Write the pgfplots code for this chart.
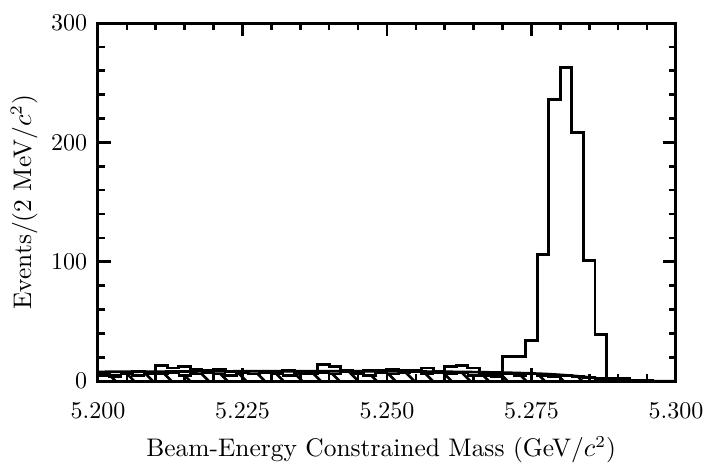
\documentclass[border=0pt]{standalone}
\usepackage{pgfplots}
\pgfplotsset{compat=1.18}
\usetikzlibrary{patterns.meta}

% Beam-energy constrained mass, 2 MeV bins (left edges)
\pgfplotstableread{
x      n
5.200  6
5.202  5
5.204  6
5.206  8
5.208  7
5.210  13
5.212  11
5.214  12
5.216  10
5.218  9
5.220  10
5.222  8
5.224  7
5.226  6
5.228  8
5.230  7
5.232  9
5.234  8
5.236  6
5.238  14
5.240  12
5.242  9
5.244  8
5.246  9
5.248  9
5.250  10
5.252  9
5.254  9
5.256  11
5.258  8
5.260  12
5.262  13
5.264  11
5.266  5
5.268  4
5.270  21
5.272  21
5.274  34
5.276  106
5.278  236
5.280  263
5.282  208
5.284  101
5.286  39
5.288  2
5.290  2
5.292  1
5.294  1
5.296  0
5.298  0
5.300  0
}\datatab

% Background estimate (hatched)
\pgfplotstableread{
x      n
5.200  5
5.202  4
5.204  6
5.206  5
5.208  6
5.210  6
5.212  7
5.214  5
5.216  6
5.218  7
5.220  6
5.222  5
5.224  7
5.226  6
5.228  7
5.230  6
5.232  5
5.234  6
5.236  7
5.238  7
5.240  6
5.242  8
5.244  6
5.246  5
5.248  7
5.250  6
5.252  7
5.254  8
5.256  6
5.258  7
5.260  6
5.262  7
5.264  5
5.266  6
5.268  6
5.270  6
5.272  5
5.274  6
5.276  5
5.278  4
5.280  5
5.282  4
5.284  3
5.286  2
5.288  1
5.290  0
}\bkgtab

% Background shape fit
\pgfplotstableread{
x      f
5.200  7.8
5.210  8.0
5.220  8.2
5.230  8.3
5.240  8.3
5.250  8.2
5.255  8.1
5.260  7.9
5.265  7.6
5.270  7.2
5.275  6.5
5.278  5.9
5.280  5.3
5.282  4.6
5.284  3.7
5.286  2.6
5.287  1.9
5.288  1.1
5.2885 0.6
5.289  0.0
5.300  0.0
}\fittab

\begin{document}
\begin{tikzpicture}
\begin{axis}[
  scale only axis,
  width=240.8pt, height=149.2pt,
  xmin=5.2, xmax=5.3, ymin=0, ymax=300,
  axis line style={line width=1.25pt},
  every tick/.style={line width=1.1pt, black},
  tick align=inside,
  xtick pos=both, ytick pos=both,
  major tick length=5.5pt, minor tick length=3pt,
  xtick={5.2,5.225,5.25,5.275,5.3},
  xticklabels={$5.200$,$5.225$,$5.250$,$5.275$,$5.300$},
  minor x tick num=4,
  ytick={0,100,200,300},
  minor y tick num=4,
  scaled x ticks=false,
  label style={font=\fontsize{10.6}{12.5}\selectfont},
  xticklabel style={yshift=-5.5pt, inner xsep=0pt},
  yticklabel style={xshift=-1pt},
  xlabel={Beam-Energy Constrained Mass (GeV/$c^2$)},
  ylabel={Events/(2 MeV/$c^2$)},
  xlabel style={at={(axis description cs:0.49,-0.13)}, anchor=north},
  ylabel style={at={(axis description cs:-0.090,0.5)}, anchor=south},
  clip=true,
]
\addplot[const plot, line width=1.1pt, draw=black,
  pattern={Lines[angle=-45, distance=5.5pt, line width=1.1pt]}]
  table[x=x, y=n] {\bkgtab} \closedcycle;
\addplot[line width=1.1pt, black, smooth] table[x=x, y=f] {\fittab};
\addplot[const plot, line width=1.2pt, black] table[x=x, y=n] {\datatab};
\end{axis}
\path (current axis.south west) ++(-40.8pt,-30.8pt) coordinate (bbl);
\path (current axis.north east) ++(11.7pt,9.6pt) coordinate (btr);
\path (bbl) rectangle (btr);
\end{tikzpicture}
\end{document}
